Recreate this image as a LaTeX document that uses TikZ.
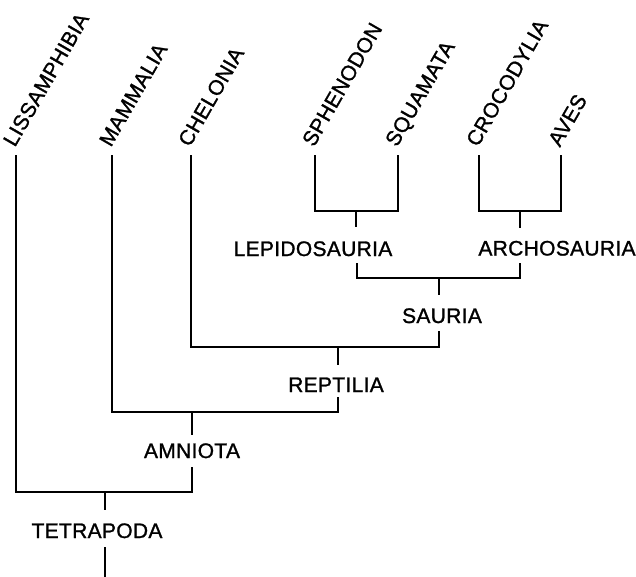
\documentclass[tikz,border=0pt]{standalone}
\usepackage{fontspec}
\newfontfamily\labfont[LetterSpace=1.5,FakeBold=1.2]{Liberation Sans}
\begin{document}
\begin{tikzpicture}[x=1pt,y=-1pt,
  br/.style={line width=2pt, line join=miter},
  lab/.style={font=\labfont\fontsize{21}{25}\selectfont, inner sep=0pt, text depth=0pt},
  leaf/.style={lab, rotate=60, anchor=south west},
  clade/.style={lab, anchor=base}]
\useasboundingbox (0,0) rectangle (636,576);
% leaf tops
\coordinate (lis) at (16,155);
\coordinate (mam) at (112,155);
\coordinate (che) at (191,155);
\coordinate (sph) at (315,155);
\coordinate (squ) at (398,155);
\coordinate (cro) at (479,155);
\coordinate (ave) at (561,155);
% leaf labels
\node[leaf] (tlis) at (15,148) {LISSAMPHIBIA};
\node[leaf] (tmam) at (111,148) {MAMMALIA};
\node[leaf] (tche) at (190,148) {CHELONIA};
\node[leaf] (tsph) at (314,148) {SPHENODON};
\node[leaf] (tsqu) at (397,148) {SQUAMATA};
\node[leaf] (tcro) at (478,148) {CROCODYLIA};
\node[leaf] (tave) at (560,148) {AVES};
% clade labels
\node[clade] (lep) at (313,256) {LEPIDOSAURIA};
\node[clade] (arc) at (557,255.5) {ARCHOSAURIA};
\node[clade] (sau) at (442,323) {SAURIA};
\node[clade] (rep) at (336,392) {REPTILIA};
\node[clade] (amn) at (192,458) {AMNIOTA};
\node[clade] (tet) at (97,538) {TETRAPODA};
% junctions and stems
\coordinate (jlep) at (356,211);
\coordinate (jarc) at (520,211);
\coordinate (lepT) at (356,227);
\coordinate (arcT) at (520,228);
\coordinate (lepB) at (357,263);
\coordinate (arcB) at (520,263);
\coordinate (jsau) at (439,278);
\coordinate (sauT) at (439,295);
\coordinate (sauB) at (439,331);
\coordinate (jrep) at (338,347);
\coordinate (repT) at (338,365);
\coordinate (repB) at (338,397);
\coordinate (jamn) at (192,412);
\coordinate (amnT) at (192,435);
\coordinate (amnB) at (192,467);
\coordinate (jtet) at (105,492);
\coordinate (tetT) at (105,510);
\coordinate (tetB) at (105,547);
\coordinate (root) at (105,577);
% Lepidosauria
\draw[br] (sph) |- (jlep) -| (squ);
\draw[br] (jlep) -- (lepT);
% Archosauria
\draw[br] (cro) |- (jarc) -| (ave);
\draw[br] (jarc) -- (arcT);
% Sauria
\draw[br] (lepB) |- (jsau) -| (arcB);
\draw[br] (jsau) -- (sauT);
% Reptilia
\draw[br] (che) |- (jrep) -| (sauB);
\draw[br] (jrep) -- (repT);
% Amniota
\draw[br] (mam) |- (jamn) -| (repB);
\draw[br] (jamn) -- (amnT);
% Tetrapoda
\draw[br] (lis) |- (jtet) -| (amnB);
\draw[br] (jtet) -- (tetT);
\draw[br] (tetB) -- (root);
\end{tikzpicture}
\end{document}
